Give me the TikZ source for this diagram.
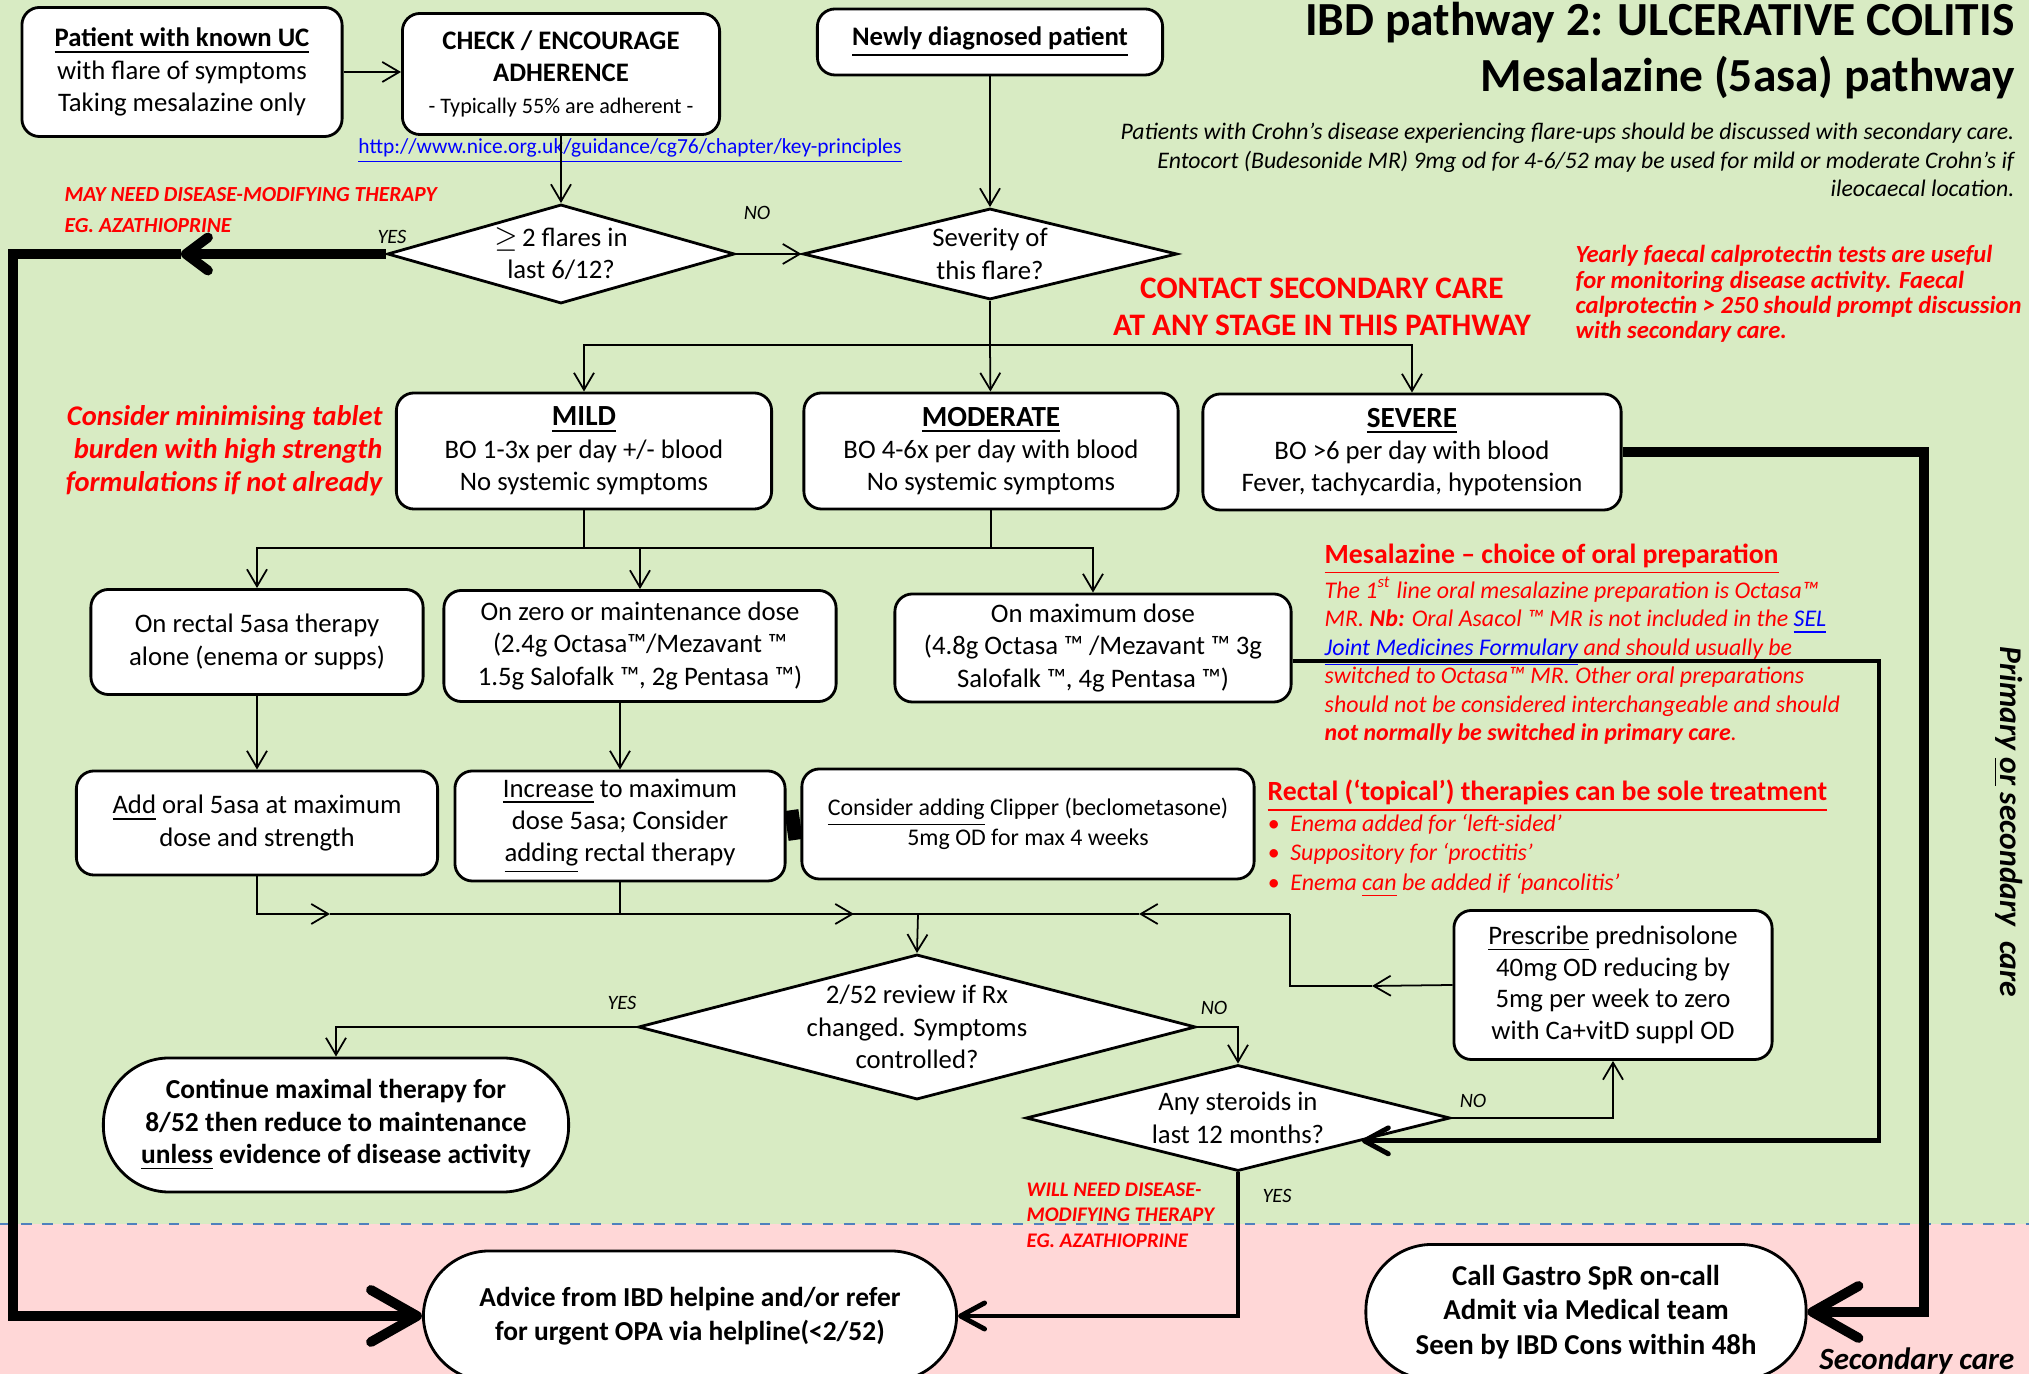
\documentclass[tikz,border=0pt]{standalone}
\usepackage{fontspec}
\setmainfont{Carlito}
\usepackage{tikz}
\usetikzlibrary{positioning, arrows.meta, shapes.geometric, calc}
\definecolor{bgGreen}{RGB}{216,235,195}
\definecolor{bgPink}{RGB}{255,215,215}
\definecolor{linkBlue}{RGB}{0,0,255}
\definecolor{noteRed}{RGB}{255,0,0}
\definecolor{laneBlue}{RGB}{79,129,189}
\newcommand{\fsz}[2]{\fontsize{#1}{#2}\selectfont}

\begin{document}
\begin{tikzpicture}[
    x=0.01cm, y=-0.01cm,
    >={Straight Barb[length=1.7mm, width=2.0mm]},
    bigtip/.tip={Straight Barb[length=4.6mm, width=5.2mm, round]},
    midtip/.tip={Straight Barb[length=2.2mm, width=3.3mm, round]},
    medtip/.tip={Straight Barb[length=2.4mm, width=2.6mm, round]},
    every node/.style={inner sep=0pt},
    box/.style={draw, line width=0.8pt, rounded corners=5pt, fill=white,
                align=center, font=\fsz{7.6}{9.2}},
    endbox/.style={draw, line width=0.8pt, rounded corners=0.66cm, fill=white,
                   align=center, font=\fsz{7.8}{9.2}\bfseries},
    decision/.style={diamond, draw, line width=0.8pt, fill=white,
                     align=center, font=\fsz{7.6}{9.2}},
    lbl/.style={font=\fsz{5.8}{7}\itshape},
    rednote/.style={align=left, text=noteRed, font=\fsz{6.1}{9}\bfseries\itshape},
    bigline/.style={line width=2.8pt},
    medline/.style={line width=1.4pt},
    link/.style={line width=0.5pt},
]
\useasboundingbox (0,0) rectangle (2029,1374);
\fill[bgGreen] (0,0) rectangle (2029,1224);
\fill[bgPink] (0,1224) rectangle (2029,1374);
\draw[laneBlue, dashed, line width=0.6pt] (0,1224) -- (2029,1224);

\node[anchor=east, font=\fsz{13.5}{16}\bfseries] (title1) at (2015,23) {IBD pathway 2: ULCERATIVE COLITIS};
\node[anchor=east, font=\fsz{13.5}{16}\bfseries] (title2) at (2015,78) {Mesalazine (5asa) pathway};
\node[anchor=east, align=right, font=\fsz{6.75}{8.1}\itshape] (crohn) at (2015,160)
    {Patients with Crohn’s disease experiencing flare-ups should be discussed with secondary care.\\
     Entocort (Budesonide MR) 9mg od for 4-6/52 may be used for mild or moderate Crohn’s if\\
     ileocaecal location.};
\node[align=center, text=noteRed, font=\fsz{8.9}{10.5}\bfseries] (contact) at (1322,307)
    {CONTACT SECONDARY CARE\\AT ANY STAGE IN THIS PATHWAY};
\node[anchor=west, rednote, font=\fsz{7}{7.2}\bfseries\itshape] (calpro) at (1575,294)
    {Yearly faecal calprotectin tests are useful\\for monitoring  disease activity. Faecal\\
     calprotectin > 250 should prompt discussion\\with secondary care.};

\node[box, minimum width=3.20cm, minimum height=1.29cm] (known) at (182,72)
    {\textbf{\underline{Patient with known UC}}\\with flare of symptoms\\Taking mesalazine only};
\node[box, minimum width=3.17cm, minimum height=1.21cm] (adhere) at (561,74)
    {\textbf{CHECK / ENCOURAGE}\\\textbf{ADHERENCE}\\{\fsz{6.3}{9}- Typically 55\% are adherent -}};
\node[box, minimum width=3.45cm, minimum height=0.66cm] (newdx) at (990,42)
    {\textbf{\underline{Newly diagnosed patient}}};
\node[text=linkBlue, font=\fsz{6.1}{7}] (nice) at (630,151)
    {\underline{http://www.nice.org.uk/guidance/cg76/chapter/key-principles}};

\node[decision, aspect=3.5, minimum width=3.47cm, minimum height=0.99cm] (flares) at (561,254)
    {$\geq$\,2 flares in\\last 6/12?};
\node[decision, aspect=4.1, minimum width=3.74cm, minimum height=0.91cm] (severity) at (990,254)
    {Severity of\\this flare?};
\node[rednote, anchor=west] (mayneed) at (64,210) {MAY NEED DISEASE-MODIFYING THERAPY\\EG. AZATHIOPRINE};
\node[lbl] (yesflare) at (392,237) {YES};
\node[lbl] (noflare) at (757,213) {NO};

\node[box, minimum width=3.75cm, minimum height=1.16cm] (mild) at (584,451)
    {{\fsz{8.3}{10}\bfseries\underline{MILD}}\\BO 1-3x per day +/- blood\\No systemic symptoms};
\node[box, minimum width=3.74cm, minimum height=1.16cm] (moderate) at (991,451)
    {{\fsz{8.3}{10}\bfseries\underline{MODERATE}}\\BO 4-6x per day with blood\\No systemic symptoms};
\node[box, minimum width=4.18cm, minimum height=1.16cm] (severe) at (1412,452)
    {{\fsz{8.3}{10}\bfseries\underline{SEVERE}}\\BO >6 per day with blood\\Fever, tachycardia, hypotension};
\node[anchor=east, align=right, text=noteRed, font=\fsz{8.1}{9.4}\bfseries\itshape] (tablets) at (383,451)
    {Consider minimising tablet\\burden with high strength\\formulations if not already};

\node[box, minimum width=3.32cm, minimum height=1.05cm] (rectal) at (257,642)
    {On rectal 5asa therapy\\alone (enema or supps)};
\node[box, minimum width=3.92cm, minimum height=1.11cm] (zerodose) at (640,646)
    {On zero or maintenance dose\\(2.4g Octasa™/Mezavant ™\\1.5g Salofalk ™, 2g Pentasa ™)};
\node[box, minimum width=3.96cm, minimum height=1.08cm] (maxdose) at (1093,648)
    {On maximum dose\\(4.8g Octasa ™ /Mezavant ™ 3g\\Salofalk ™, 4g Pentasa ™)};

\node[box, minimum width=3.61cm, minimum height=1.04cm] (addoral) at (257,823)
    {\underline{Add} oral 5asa at maximum\\dose and strength};
\node[box, minimum width=3.30cm, minimum height=1.10cm] (increase) at (620,826)
    {\underline{Increase} to maximum\\dose 5asa; Consider\\\underline{adding} rectal therapy};
\node[box, minimum width=4.52cm, minimum height=1.10cm, font=\fsz{6.8}{8.6}] (clipper) at (1028,824)
    {\underline{Consider adding} Clipper (beclometasone)\\5mg OD for max 4 weeks};

\node[anchor=west, text=noteRed, font=\fsz{7.9}{9}\bfseries] (mesahead) at (1324,559)
    {\underline{Mesalazine – choice of oral preparation}};
\node[anchor=west, align=left, text=noteRed, font=\fsz{6.8}{8.1}\itshape] (mesatext) at (1324,661)
    {The 1\textsuperscript{st} line oral mesalazine preparation is Octasa™\\
     MR. \textbf{Nb:} Oral Asacol ™ MR is not included in the {\color{linkBlue}\underline{SEL}}\\
     {\color{linkBlue}\underline{Joint Medicines Formulary}} and should usually be\\
     switched to Octasa™ MR. Other oral preparations\\
     should not be considered interchangeable and should\\
     \textbf{not normally be switched in primary care}.};
\node[anchor=west, text=noteRed, font=\fsz{7.9}{9}\bfseries] (rectalhead) at (1267,796)
    {\underline{Rectal (‘topical’) therapies can be sole treatment}};
\node[anchor=west, align=left, text=noteRed, font=\fsz{6.8}{8.3}\itshape] (rectallist) at (1267,856)
    {\textbullet\ \ Enema added for ‘left-sided’\\
     \textbullet\ \ Suppository for ‘proctitis’\\
     \textbullet\ \ Enema \underline{can} be added if ‘pancolitis’};

\node[decision, aspect=3.84, minimum width=5.57cm, minimum height=1.45cm] (review) at (917,1027)
    {2/52 review if Rx\\changed. Symptoms\\controlled?};
\node[decision, aspect=4, minimum width=4.24cm, minimum height=1.06cm] (steroids) at (1238,1118)
    {Any steroids in\\last 12 months?};
\node[box, minimum width=3.18cm, minimum height=1.49cm, font=\fsz{7.6}{9}] (pred) at (1613,985)
    {\underline{Prescribe} prednisolone\\40mg OD reducing by\\5mg per week to zero\\with Ca+vitD suppl OD};
\node[endbox, minimum width=4.65cm, minimum height=1.34cm] (continue) at (336,1125)
    {Continue maximal therapy for\\8/52 then reduce to maintenance\\\underline{unless} evidence of disease activity};
\node[endbox, minimum width=5.33cm, minimum height=1.30cm, font=\fsz{7.8}{9.6}\bfseries] (advice) at (690,1316)
    {Advice from IBD helpine and/or refer\\for urgent OPA via helpline(<2/52)};
\node[endbox, minimum width=4.40cm, minimum height=1.35cm, font=\fsz{8.2}{9.9}\bfseries] (callspr) at (1586,1312)
    {Call Gastro SpR on-call\\Admit via Medical team\\Seen by IBD Cons within 48h};
\node[lbl] (yesreview) at (622,1003) {YES};
\node[lbl] (noreview) at (1214,1008) {NO};
\node[lbl] (nosteroid) at (1473,1101) {NO};
\node[lbl] (yessteroid) at (1277,1196) {YES};
\node[rednote, anchor=west, font=\fsz{5.9}{7.2}\bfseries\itshape] (willneed) at (1026,1215)
    {WILL NEED DISEASE-\\MODIFYING THERAPY\\EG. AZATHIOPRINE};
\node[rotate=-90, font=\fsz{9}{10}\bfseries\itshape] (primlane) at (2008,822)
    {Primary \underline{or} secondary\ \ care};
\node[anchor=east, font=\fsz{8.8}{10}\bfseries\itshape] (seclane) at (2015,1361) {Secondary care};

\coordinate (sevsplit) at (990,345);
\coordinate (dosesplit) at (584,548);
\coordinate (merge) at (918,914);
\coordinate (addmid) at (330,914);
\coordinate (incmid) at (854,914);
\coordinate (predmid) at (1372,986);
\coordinate (predcorner) at (1290,914);
\coordinate (predmid2) at (1139,914);
\coordinate (yesmid) at (181,254);
\coordinate (leftrail) at (13,254);
\coordinate (sevrail) at (1924,452);
\coordinate (maxrail) at (1879,661);
\coordinate (sterhit) at ($(steroids.east)!0.42!(steroids.south)$);

\draw[link, ->] (known) -- (adhere.west |- known);
\draw[link, ->] (adhere) -- (flares);
\draw[link, ->] (newdx) -- (severity);
\draw[link, ->] (flares) -- (severity);
\draw[link] (severity.south) -- (sevsplit);
\draw[link, ->] (sevsplit) -| (mild.north);
\draw[link, ->] (sevsplit) -- (moderate);
\draw[link, ->] (sevsplit) -| (severe.north);
\draw[link] (mild.south) -- (dosesplit);
\draw[link] (moderate.south) |- (dosesplit);
\draw[link, ->] (dosesplit) -| (rectal.north);
\draw[link, ->] (dosesplit) -| (zerodose.north);
\draw[link, ->] (dosesplit) -| (maxdose.north);
\draw[link, ->] (rectal) -- (addoral);
\draw[link, ->] (zerodose.south -| increase.north) -- (increase.north);
\draw[line width=0.3cm] (increase.east) -- (clipper.west);
\draw[link, ->] (addoral.south) |- (addmid);
\draw[link] (addmid) -- (merge);
\draw[link, ->] (increase.south) |- (incmid);
\draw[link] (incmid) -- (merge);
\draw[link, ->] (pred.west) -- (predmid);
\draw[link] (predmid) -| (predcorner);
\draw[link, ->] (predcorner) -- (predmid2);
\draw[link] (predmid2) -- (merge);
\draw[link, ->] (merge) -- (review.north);
\draw[link, ->] (review.west) -| (continue.north);
\draw[link, ->] (review.east) -| (steroids.north);
\draw[link, ->] (steroids.east) -| (pred.south);
\draw[medline, -medtip] (steroids.south) |- (advice.east);
\draw[medline, -medtip] (maxdose.east |- maxrail) -- (maxrail) |- (sterhit);
\draw[bigline, -midtip] (flares.west) -- (yesmid);
\draw[bigline, -bigtip] (yesmid) -- (leftrail) |- (advice.west);
\draw[bigline, -bigtip] (severe.east) -- (sevrail) |- (callspr.east);
\end{tikzpicture}
\end{document}
